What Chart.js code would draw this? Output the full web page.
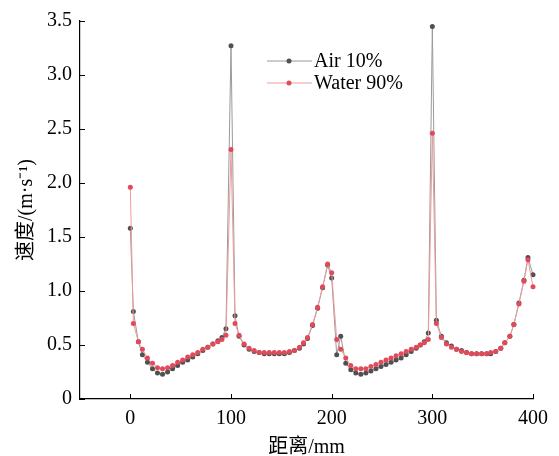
<!DOCTYPE html>
<html>
<head>
<meta charset="utf-8">
<script src="https://cdn.jsdelivr.net/npm/chart.js@4"></script>
<style>
  body { margin: 0; background: #fff; }
</style>
</head>
<body>
<canvas id="speedChart" width="559" height="456"></canvas>
<script>
// distance along the pipe (mm)
const distance = [
  0, 3, 8, 12, 17, 22, 27, 32, 37, 42, 47, 52, 57, 62, 67, 72, 77, 82, 87, 91, 95, 100,
  104, 108, 113, 118, 123, 128, 133, 138, 143, 148, 153, 158, 163, 168, 172, 176, 181, 186, 191, 196, 200,
  205, 209, 214, 219, 224, 229, 234, 239, 244, 249, 254, 259, 264, 269, 274, 279, 284, 288, 292, 296, 300,
  304, 309, 314, 319, 324, 329, 334, 339, 344, 349, 354, 358, 363, 368, 372, 377, 381, 386, 391, 395, 400
];

const airSpeed = [
  1.58, 0.81, 0.53, 0.41, 0.34, 0.28, 0.24, 0.23, 0.25, 0.28, 0.31, 0.34, 0.36, 0.39, 0.42, 0.45, 0.48, 0.51, 0.54, 0.57, 0.65, 3.27,
  0.77, 0.58, 0.50, 0.46, 0.44, 0.43, 0.42, 0.42, 0.42, 0.42, 0.42, 0.43, 0.45, 0.47, 0.51, 0.56, 0.68, 0.84, 1.03, 1.24, 1.12,
  0.41, 0.58, 0.33, 0.27, 0.24, 0.23, 0.24, 0.26, 0.28, 0.30, 0.32, 0.34, 0.36, 0.38, 0.41, 0.44, 0.47, 0.50, 0.53, 0.61, 3.45,
  0.73, 0.58, 0.52, 0.49, 0.46, 0.45, 0.43, 0.42, 0.42, 0.42, 0.42, 0.42, 0.44, 0.47, 0.52, 0.58, 0.69, 0.89, 1.10, 1.31, 1.15
];

const waterSpeed = [
  1.96, 0.70, 0.53, 0.46, 0.38, 0.33, 0.29, 0.28, 0.29, 0.31, 0.34, 0.36, 0.39, 0.41, 0.43, 0.46, 0.48, 0.51, 0.53, 0.55, 0.59, 2.31,
  0.70, 0.59, 0.51, 0.47, 0.45, 0.43, 0.43, 0.43, 0.43, 0.43, 0.43, 0.44, 0.45, 0.48, 0.52, 0.57, 0.69, 0.85, 1.04, 1.25, 1.17,
  0.55, 0.46, 0.38, 0.31, 0.28, 0.28, 0.28, 0.30, 0.32, 0.34, 0.36, 0.38, 0.40, 0.42, 0.44, 0.46, 0.48, 0.50, 0.52, 0.55, 2.46,
  0.70, 0.57, 0.51, 0.48, 0.46, 0.44, 0.43, 0.42, 0.42, 0.42, 0.42, 0.43, 0.44, 0.47, 0.52, 0.58, 0.69, 0.88, 1.09, 1.29, 1.04
];

const seriesNames = ['Air 10%', 'Water 90%'];
const xTicks = [0, 100, 200, 300, 400];
const yTicks = [0, 0.5, 1.0, 1.5, 2.0, 2.5, 3.0, 3.5];

const FONT = '"Liberation Serif", "Noto Sans CJK SC", serif';

function toPoints(values) {
  return distance.map((x, i) => ({ x: x, y: values[i] }));
}

// inward tick marks, like the original plot
const innerTicks = {
  id: 'innerTicks',
  afterDraw(chart) {
    const ctx = chart.ctx;
    const xs = chart.scales.x;
    const ys = chart.scales.y;
    ctx.save();
    ctx.strokeStyle = '#000';
    ctx.lineWidth = 1;
    ctx.beginPath();
    xTicks.forEach((v) => {
      const px = Math.round(xs.getPixelForValue(v)) + 0.5;
      ctx.moveTo(px, ys.bottom);
      ctx.lineTo(px, ys.bottom - 5);
    });
    yTicks.forEach((v) => {
      const py = Math.round(ys.getPixelForValue(v)) + 0.5;
      ctx.moveTo(xs.left, py);
      ctx.lineTo(xs.left + 5, py);
    });
    ctx.stroke();
    ctx.restore();
  }
};

// legend with line + dot samples
const lineLegend = {
  id: 'lineLegend',
  afterDraw(chart) {
    const ctx = chart.ctx;
    ctx.save();
    chart.data.datasets.forEach((ds, i) => {
      const y = 61 + i * 22;
      ctx.strokeStyle = ds.borderColor;
      ctx.lineWidth = 1.2;
      ctx.beginPath();
      ctx.moveTo(267, y);
      ctx.lineTo(312, y);
      ctx.stroke();
      ctx.fillStyle = ds.pointBackgroundColor;
      ctx.beginPath();
      ctx.arc(289, y, 2.5, 0, Math.PI * 2);
      ctx.fill();
      ctx.fillStyle = '#000';
      ctx.font = '20px ' + FONT;
      ctx.textBaseline = 'middle';
      ctx.fillText(ds.label, 314, y + 1);
    });
    ctx.restore();
  }
};

const ctx = document.getElementById('speedChart').getContext('2d');
new Chart(ctx, {
  type: 'line',
  data: {
    datasets: [
      {
        label: seriesNames[0],
        data: toPoints(airSpeed),
        borderColor: '#9a9a9a',
        borderWidth: 1,
        pointBackgroundColor: '#505050',
        pointBorderColor: '#505050',
        pointRadius: 2.5,
        pointBorderWidth: 0,
        tension: 0,
        clip: false,
        order: 2,
      },
      {
        label: seriesNames[1],
        data: toPoints(waterSpeed),
        borderColor: '#ef9a9a',
        borderWidth: 1,
        pointBackgroundColor: '#e04a5a',
        pointBorderColor: '#e04a5a',
        pointRadius: 2.5,
        pointBorderWidth: 0,
        tension: 0,
        clip: false,
        order: 1,
      },
    ],
  },
  options: {
    responsive: false,
    animation: false,
    layout: { padding: { top: 21, right: 26, left: 0, bottom: 0 } },
    plugins: {
      legend: { display: false },
      tooltip: { enabled: false },
    },
    scales: {
      x: {
        type: 'linear',
        min: -50,
        max: 400,
        afterBuildTicks: (scale) => { scale.ticks = xTicks.map((v) => ({ value: v })); },
        afterFit: (scale) => { scale.height = 57; },
        grid: { display: false, drawTicks: false },
        border: { display: true, color: '#000', width: 1.2 },
        ticks: {
          color: '#000',
          padding: 8,
          maxRotation: 0,
          font: { family: FONT, size: 20 },
        },
        title: {
          display: true,
          text: '距离/mm',
          color: '#000',
          padding: { top: 0, bottom: 0 },
          font: { family: FONT, size: 20, lineHeight: 0.8 },
        },
      },
      y: {
        min: 0,
        max: 3.5,
        afterBuildTicks: (scale) => { scale.ticks = yTicks.map((v) => ({ value: v })); },
        afterFit: (scale) => { scale.width = 80; },
        grid: { display: false, drawTicks: false },
        border: { display: true, color: '#000', width: 1.2 },
        ticks: {
          color: '#000',
          padding: 8,
          font: { family: FONT, size: 20 },
          callback: (v) => (v === 0 ? '0' : v.toFixed(1)),
        },
        title: {
          display: true,
          text: '速度/(m·s⁻¹)',
          color: '#000',
          padding: { top: 15, bottom: 0 },
          font: { family: FONT, size: 20 },
        },
      },
    },
  },
  plugins: [innerTicks, lineLegend],
});
</script>
</body>
</html>
